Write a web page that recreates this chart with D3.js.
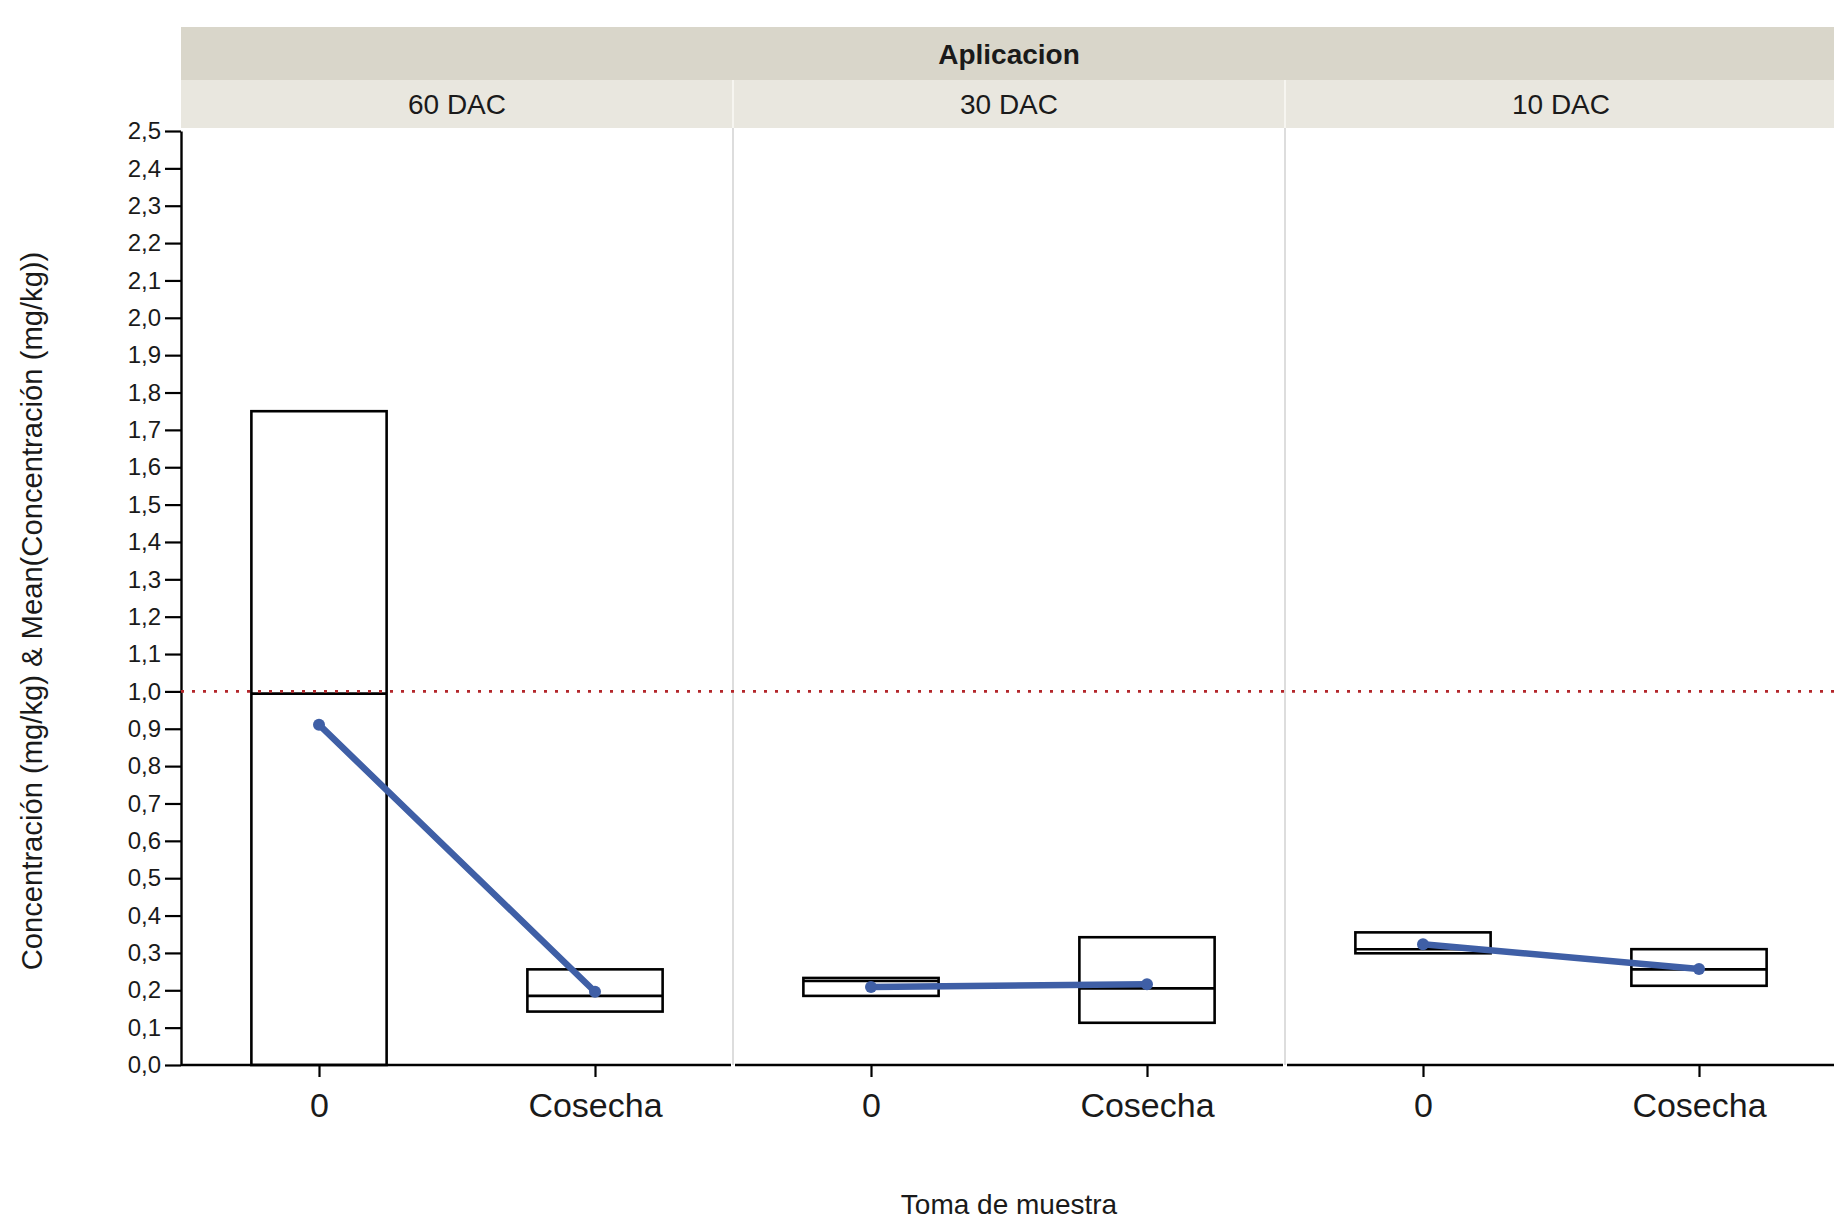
<!DOCTYPE html>
<html>
<head>
<meta charset="utf-8">
<script src="https://cdn.jsdelivr.net/npm/d3@7"></script>
<style>
  html, body { margin: 0; padding: 0; background: #ffffff; overflow: hidden; }
  svg { display: block; }
  text { font-family: "Liberation Sans", Arial, sans-serif; fill: #1a1a1a; }
</style>
</head>
<body>
<svg id="chart" width="1834" height="1220"></svg>
<script>
// ---- data ----
const groupTitle = "Aplicacion";
const panels = ["60 DAC", "30 DAC", "10 DAC"];
const categories = ["0", "Cosecha"];
// box lower edge, median, upper edge per panel (per category)
const boxLow    = [[0.000, 0.143], [0.185, 0.113], [0.299, 0.212]];
const boxMedian = [[0.994, 0.185], [0.225, 0.205], [0.310, 0.256]];
const boxHigh   = [[1.750, 0.256], [0.233, 0.342], [0.355, 0.310]];
// mean concentration per panel (per category)
const meanValues = [[0.911, 0.196], [0.209, 0.216], [0.323, 0.257]];
const referenceLimit = 1.0;
const yTicks = d3.range(0, 26).map(i => i / 10);
const yTitle = "Concentración (mg/kg) & Mean(Concentración (mg/kg))";
const xTitle = "Toma de muestra";

// ---- layout ----
const svg = d3.select("#chart");
const left = 181, plotTop = 128, strip1Top = 27, strip2Top = 80;
const panelW = 552;
const plotW = panelW * panels.length;
const y = d3.scaleLinear().domain([0, 2.5]).range([1065, 131]);
const fx = d3.scaleBand().domain(panels).range([left, left + plotW]).padding(0);
const x = d3.scalePoint().domain(categories).range([0, panelW]).padding(0.5);
const boxW = x.step() * 0.49;
const loc = d3.formatLocale({decimal: ",", thousands: ".", grouping: [3], currency: ["", ""]});
const fmt = loc.format(".1f");

// strips
svg.append("rect").attr("x", left).attr("y", strip1Top).attr("width", plotW).attr("height", strip2Top - strip1Top)
  .attr("fill", "#d9d6ca");
svg.append("rect").attr("x", left).attr("y", strip2Top).attr("width", plotW).attr("height", plotTop - strip2Top)
  .attr("fill", "#e9e7df");
svg.append("text").attr("x", left + plotW / 2).attr("y", 64).attr("text-anchor", "middle")
  .attr("font-size", 28).attr("font-weight", "bold").text(groupTitle);

panels.forEach((p, i) => {
  const gx = fx(p);
  svg.append("text").attr("x", gx + panelW / 2).attr("y", 114).attr("text-anchor", "middle")
    .attr("font-size", 28).text(p);
  if (i > 0) {
    svg.append("line").attr("x1", gx).attr("x2", gx).attr("y1", strip2Top).attr("y2", plotTop)
      .attr("stroke", "#f6f5f0").attr("stroke-width", 2);
    svg.append("line").attr("x1", gx).attr("x2", gx).attr("y1", plotTop).attr("y2", y(0))
      .attr("stroke", "#d2d2d2").attr("stroke-width", 1.5);
  }
});

// y axis
const yAxis = svg.append("g").attr("transform", `translate(${left},0)`)
  .call(d3.axisLeft(y).tickValues(yTicks).tickFormat(fmt).tickSize(16).tickSizeOuter(0).tickPadding(4));
yAxis.select(".domain").attr("stroke", "#000").attr("stroke-width", 2.4);
yAxis.selectAll(".tick line").attr("stroke", "#000").attr("stroke-width", 2.2);
yAxis.selectAll(".tick text").attr("font-size", 24).attr("font-family", "Liberation Sans, Arial, sans-serif").attr("fill", "#1a1a1a");

// panels
panels.forEach((p, i) => {
  const g = svg.append("g").attr("transform", `translate(${fx(p)},0)`);
  // x axis
  const xa = g.append("g").attr("transform", `translate(0,${y(0)})`)
    .call(d3.axisBottom(x).tickSize(12).tickSizeOuter(0).tickPadding(16));
  xa.select(".domain").attr("stroke", "#000").attr("stroke-width", 2.6)
    .attr("d", `M${i === 0 ? 0 : 2},0H${panelW - 2}`);
  xa.selectAll(".tick line").attr("stroke", "#000").attr("stroke-width", 2.2);
  xa.selectAll(".tick text").attr("font-size", 34).attr("font-family", "Liberation Sans, Arial, sans-serif").attr("fill", "#1a1a1a");

  // boxes
  categories.forEach((c, j) => {
    const cx = x(c);
    g.append("rect").attr("x", cx - boxW / 2).attr("y", y(boxHigh[i][j]))
      .attr("width", boxW).attr("height", y(boxLow[i][j]) - y(boxHigh[i][j]))
      .attr("fill", "none").attr("stroke", "#000").attr("stroke-width", 2.6);
    g.append("line").attr("x1", cx - boxW / 2).attr("x2", cx + boxW / 2)
      .attr("y1", y(boxMedian[i][j])).attr("y2", y(boxMedian[i][j]))
      .attr("stroke", "#000").attr("stroke-width", 2.6);
  });
});

// reference line
svg.append("line").attr("x1", left).attr("x2", left + plotW)
  .attr("y1", y(referenceLimit)).attr("y2", y(referenceLimit))
  .attr("stroke", "#b3262a").attr("stroke-width", 2.6).attr("stroke-dasharray", "3,8");

// mean lines
panels.forEach((p, i) => {
  const g = svg.append("g").attr("transform", `translate(${fx(p)},0)`);
  const pts = categories.map((c, j) => [x(c), y(meanValues[i][j])]);
  g.append("path").attr("d", d3.line()(pts)).attr("fill", "none")
    .attr("stroke", "#3f5fa6").attr("stroke-width", 6.5).attr("stroke-linecap", "round");
  g.selectAll("circle.m").data(pts).join("circle").attr("class", "m")
    .attr("cx", d => d[0]).attr("cy", d => d[1]).attr("r", 6).attr("fill", "#3f5fa6");
});

// titles
svg.append("text").attr("transform", `translate(42,611) rotate(-90)`).attr("text-anchor", "middle")
  .attr("font-size", 29.2).text(yTitle);
svg.append("text").attr("x", left + plotW / 2).attr("y", 1214).attr("text-anchor", "middle")
  .attr("font-size", 28).text(xTitle);
</script>
</body>
</html>
